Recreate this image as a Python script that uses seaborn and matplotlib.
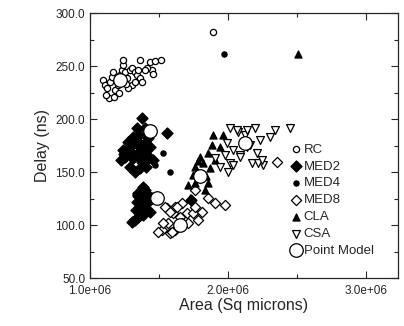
import matplotlib
matplotlib.use("Agg")
import matplotlib.pyplot as plt
from matplotlib.ticker import MultipleLocator, FormatStrFormatter, FuncFormatter
import matplotlib.transforms as mtransforms
import numpy as np
import pandas as pd
import seaborn as sns

# area in millions of sq microns, delay in ns
rc_area = [1.094, 1.109, 1.123, 1.145, 1.159, 1.181, 1.203, 1.217, 1.232, 1.239, 1.239, 1.254,
           1.268, 1.290, 1.304, 1.326, 1.341, 1.348, 1.362, 1.377, 1.362, 1.304, 1.275, 1.138,
           1.116, 1.174, 1.210, 1.435, 1.449, 1.457, 1.471, 1.514, 1.413, 1.399, 1.261, 1.203,
           1.167, 1.326, 1.891]
rc_delay = [236.8, 232.1, 229.2, 234.9, 239.6, 227.4, 232.1, 241.5, 246.2, 250.9, 255.7, 244.3,
            238.7, 246.2, 248.1, 244.3, 241.5, 246.2, 238.7, 234.9, 255.7, 232.1, 229.2, 219.8,
            222.6, 220.8, 224.5, 253.8, 246.2, 242.5, 254.7, 255.7, 248.1, 246.2, 233.0, 236.8,
            244.3, 234.9, 282.1]

med2_area = [1.375, 1.338, 1.312, 1.290, 1.239, 1.254, 1.312, 1.377, 1.413, 1.384, 1.435, 1.362,
             1.290, 1.457, 1.420, 1.558, 1.341, 1.275, 1.348, 1.225, 1.399, 1.326,
             1.360, 1.300, 1.395, 1.270, 1.330, 1.405, 1.355, 1.245,
             1.384, 1.348, 1.420, 1.341, 1.413, 1.377, 1.384, 1.326, 1.348, 1.449, 1.435, 1.304,
             1.365, 1.400, 1.335, 1.732]
med2_delay = [200.6, 191.5, 183.0, 173.6, 170.8, 164.2, 163.2, 159.4, 166.0, 175.5, 173.6, 153.8,
              154.7, 161.3, 182.1, 186.8, 166.0, 178.3, 178.3, 161.3, 191.5, 150.0,
              170.0, 168.0, 160.0, 170.0, 177.0, 155.0, 185.0, 167.0,
              135.8, 130.2, 128.3, 121.7, 120.7, 116.0, 109.4, 104.7, 107.5, 125.5, 112.3, 102.8,
              126.0, 133.0, 114.0, 123.6]

med4_area = [1.529, 1.580, 1.971, 1.304, 1.399, 1.362, 1.420, 1.326, 1.471]
med4_delay = [167.9, 150.0, 261.3, 161.3, 170.8, 123.6, 114.2, 128.3, 156.6]

med8_area = [1.522, 1.493, 1.565, 1.558, 1.601, 1.616, 1.652, 1.703, 1.667, 1.616, 1.710, 1.746,
             1.761, 1.812, 1.761, 1.855, 1.906, 1.978, 1.529, 1.580, 1.667, 1.783, 1.543, 1.580,
             1.630, 1.594, 2.355]
med8_delay = [95.3, 93.4, 101.9, 116.0, 111.3, 117.0, 107.5, 111.3, 101.9, 95.3, 101.9, 111.3,
              117.0, 112.3, 133.0, 125.5, 120.7, 118.9, 101.9, 92.4, 120.7, 104.7, 117.0, 112.3,
              117.0, 93.4, 159.4]

cla_area = [1.891, 1.964, 1.884, 1.942, 1.855, 1.797, 1.761, 1.746, 1.761, 1.855, 1.819, 1.870,
            1.725, 1.833, 1.710, 1.906, 1.780, 1.840, 2.507]
cla_delay = [184.9, 184.9, 175.5, 173.6, 167.9, 164.2, 154.7, 147.1, 139.6, 139.6, 158.5, 153.8,
             125.5, 133.0, 137.7, 161.3, 160.0, 146.0, 261.3]

csa_area = [2.014, 2.072, 2.123, 1.993, 2.036, 1.978, 2.014, 1.942, 1.906, 2.087, 2.138, 2.065,
            2.138, 2.196, 2.232, 2.304, 2.341, 2.449, 2.159, 2.210, 2.254, 2.174, 2.087, 2.036,
            2.000, 2.217, 2.246]
csa_delay = [191.5, 187.7, 184.9, 177.4, 170.8, 166.0, 158.5, 154.7, 163.2, 166.0, 173.6, 189.6,
             189.6, 191.5, 180.2, 183.0, 189.6, 191.5, 175.5, 167.9, 156.6, 158.5, 164.2, 156.6,
             150.0, 158.5, 161.3]

model_area = [1.217, 1.435, 1.486, 1.652, 1.797, 2.123]
model_delay = [236.8, 188.7, 125.5, 100.0, 146.2, 177.6]

series = [
    ("RC", rc_area, rc_delay, "o", "white", 20),
    ("MED2", med2_area, med2_delay, "D", "black", 32),
    ("MED4", med4_area, med4_delay, "o", "black", 14),
    ("MED8", med8_area, med8_delay, "D", "white", 27),
    ("CLA", cla_area, cla_delay, "^", "black", 26),
    ("CSA", csa_area, csa_delay, "v", "white", 32),
    ("Point Model", model_area, model_delay, "o", "white", 95),
]

sns.set_style("ticks")
plt.rcParams["font.family"] = ["Liberation Sans", "DejaVu Sans"]

fig = plt.figure(figsize=(4.04, 3.26), dpi=100)
ax = fig.add_axes([0.223, 0.147, 0.762, 0.813])

for name, xa, ya, mk, fc, sz in series:
    df = pd.DataFrame({"area": np.array(xa) * 1e6, "delay": ya})
    sns.scatterplot(data=df, x="area", y="delay", marker=mk, s=sz, color=fc,
                    edgecolor="black", linewidth=0.9, ax=ax, label=name, zorder=3)

ax.set_xlim(1.0e6, 3.23e6)
ax.set_ylim(50, 300)
ax.xaxis.set_major_locator(MultipleLocator(1e6))
ax.xaxis.set_minor_locator(MultipleLocator(5e5))
ax.yaxis.set_major_locator(MultipleLocator(50))
ax.yaxis.set_minor_locator(MultipleLocator(25))
ax.xaxis.set_major_formatter(FuncFormatter(lambda v, p: "%.1e" % v))
ax.yaxis.set_major_formatter(FormatStrFormatter("%.1f"))
ax.tick_params(which="both", direction="in", top=True, right=True, width=0.8)
ax.tick_params(which="major", length=5, labelsize=8.5)
ax.tick_params(axis="x", which="major", pad=5)
ax.tick_params(which="minor", length=3)
for sp in ax.spines.values():
    sp.set_linewidth(0.9)

# the bottom y label sits a little above its tick, as in the original
fig.canvas.draw()
lab50 = ax.get_yticklabels()[0]
lab50.set_transform(lab50.get_transform() +
                    mtransforms.ScaledTranslation(0, 5 / 100, fig.dpi_scale_trans))

ax.set_xlabel("Area (Sq microns)", fontsize=11.5, labelpad=1)
ax.set_ylabel("Delay (ns)", fontsize=11.5, labelpad=4)

leg = ax.legend(loc="lower left", bbox_to_anchor=(0.63, 0.06), frameon=False, fontsize=9.5,
                handletextpad=0.1, labelspacing=0.35, borderaxespad=0.0, handlelength=1.0)

fig.savefig("out.png", dpi=100)
